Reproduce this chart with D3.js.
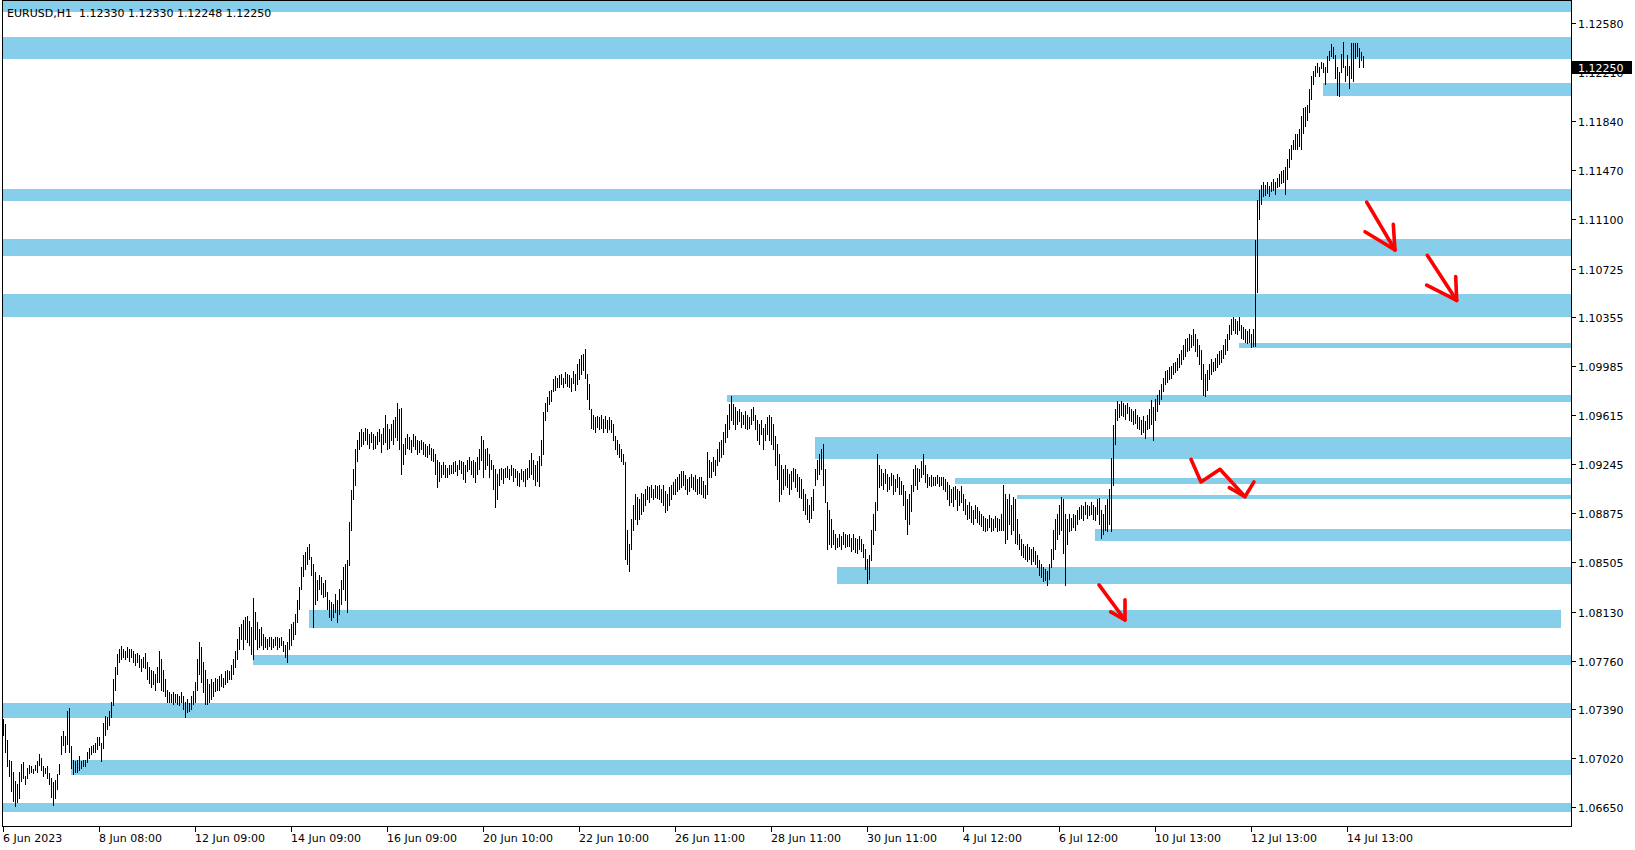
<!DOCTYPE html>
<html><head><meta charset="utf-8">
<script src="https://cdn.jsdelivr.net/npm/d3@7"></script>
<style>
html,body{margin:0;padding:0;background:#fff;overflow:hidden}
svg{display:block}
text{font-family:"DejaVu Sans",sans-serif;font-size:11px}
</style>
</head><body>
<svg id="c" width="1635" height="850"></svg>
<script>
// ---------- DATA ----------
const chartTitle = "EURUSD,H1  1.12330 1.12330 1.12248 1.12250";
const lastPrice = 1.12250;
const lastPriceLabel = "1.12250";

const yTickValues = [1.12580,1.12210,1.11840,1.11470,1.11100,1.10725,1.10355,1.09985,1.09615,1.09245,1.08875,1.08505,1.08130,1.07760,1.07390,1.07020,1.06650];
const yTickLabels = ["1.12580","1.12210","1.11840","1.11470","1.11100","1.10725","1.10355","1.09985","1.09615","1.09245","1.08875","1.08505","1.08130","1.07760","1.07390","1.07020","1.06650"];

const xTickIndex = [0,48,96,144,192,240,288,336,384,432,480,528,576,624,672];
const xTickLabels = ["6 Jun 2023","8 Jun 08:00","12 Jun 09:00","14 Jun 09:00","16 Jun 09:00","20 Jun 10:00","22 Jun 10:00","26 Jun 11:00","28 Jun 11:00","30 Jun 11:00","4 Jul 12:00","6 Jul 12:00","10 Jul 13:00","12 Jul 13:00","14 Jul 13:00"];

// H1 bar highs / lows (bar index 0..680)
const hi = [
1.0732,1.0728,1.0716,1.0701,1.0700,1.0692,1.0685,1.0683,1.0692,1.0698,
1.0699,1.0689,1.0695,1.0697,1.0696,1.0694,1.0697,1.0700,1.0705,1.0702,
1.0696,1.0695,1.0696,1.0691,1.0687,1.0684,1.0686,1.0690,1.0698,1.0719,
1.0723,1.0719,1.0738,1.0740,1.0711,1.0701,1.0700,1.0701,1.0704,1.0700,
1.0701,1.0701,1.0707,1.0710,1.0711,1.0712,1.0714,1.0718,1.0718,1.0714,
1.0729,1.0734,1.0733,1.0738,1.0745,1.0762,1.0771,1.0781,1.0785,1.0787,
1.0785,1.0783,1.0786,1.0785,1.0785,1.0783,1.0781,1.0782,1.0780,1.0777,
1.0779,1.0782,1.0775,1.0771,1.0769,1.0768,1.0766,1.0771,1.0783,1.0777,
1.0769,1.0762,1.0754,1.0752,1.0751,1.0752,1.0751,1.0751,1.0749,1.0752,
1.0749,1.0745,1.0747,1.0744,1.0749,1.0753,1.0760,1.0777,1.0790,1.0786,
1.0775,1.0769,1.0762,1.0758,1.0762,1.0760,1.0763,1.0762,1.0764,1.0766,
1.0763,1.0768,1.0769,1.0768,1.0773,1.0777,1.0783,1.0792,1.0801,1.0804,
1.0807,1.0809,1.0810,1.0806,1.0801,1.0823,1.0813,1.0805,1.0800,1.0801,
1.0796,1.0794,1.0792,1.0794,1.0794,1.0792,1.0794,1.0794,1.0793,1.0794,
1.0791,1.0788,1.0790,1.0800,1.0804,1.0805,1.0811,1.0822,1.0832,1.0847,
1.0856,1.0858,1.0862,1.0864,1.0854,1.0849,1.0843,1.0837,1.0841,1.0839,
1.0835,1.0837,1.0828,1.0822,1.0820,1.0819,1.0826,1.0822,1.0830,1.0837,
1.0847,1.0849,1.0852,1.0881,1.0905,1.0921,1.0936,1.0943,1.0949,1.0951,
1.0949,1.0952,1.0951,1.0947,1.0949,1.0947,1.0946,1.0949,1.0951,1.0947,
1.0952,1.0962,1.0955,1.0951,1.0955,1.0958,1.0960,1.0971,1.0966,1.0967,
1.0940,1.0944,1.0947,1.0945,1.0943,1.0947,1.0946,1.0943,1.0942,1.0943,
1.0941,1.0940,1.0938,1.0940,1.0937,1.0936,1.0932,1.0928,1.0926,1.0924,
1.0926,1.0924,1.0922,1.0924,1.0924,1.0926,1.0927,1.0924,1.0928,1.0927,
1.0926,1.0924,1.0928,1.0930,1.0927,1.0928,1.0926,1.0930,1.0936,1.0946,
1.0943,1.0936,1.0937,1.0932,1.0928,1.0924,1.0921,1.0917,1.0921,1.0922,
1.0921,1.0922,1.0923,1.0921,1.0924,1.0922,1.0921,1.0919,1.0918,1.0921,
1.0919,1.0921,1.0922,1.0928,1.0933,1.0928,1.0924,1.0927,1.0931,1.0943,
1.0964,1.0971,1.0975,1.0980,1.0981,1.0989,1.0991,1.0990,1.0992,1.0993,
1.0990,1.0994,1.0993,1.0992,1.0990,1.0995,1.0993,1.1000,1.1004,1.1007,
1.1008,1.1012,1.0993,1.0985,1.0966,1.0962,1.0960,1.0961,1.0960,1.0962,
1.0959,1.0961,1.0958,1.0960,1.0958,1.0955,1.0946,1.0943,1.0940,1.0936,
1.0932,1.0926,1.0875,1.0864,1.0883,1.0894,1.0902,1.0900,1.0898,1.0903,
1.0902,1.0906,1.0908,1.0907,1.0909,1.0906,1.0909,1.0908,1.0909,1.0906,
1.0909,1.0904,1.0902,1.0907,1.0909,1.0911,1.0913,1.0915,1.0917,1.0919,
1.0919,1.0916,1.0913,1.0915,1.0917,1.0915,1.0916,1.0913,1.0915,1.0915,
1.0912,1.0909,1.0934,1.0928,1.0926,1.0930,1.0928,1.0936,1.0941,1.0943,
1.0949,1.0955,1.0962,1.0970,1.0976,1.0970,1.0968,1.0965,1.0966,1.0964,
1.0962,1.0965,1.0962,1.0960,1.0966,1.0968,1.0962,1.0958,1.0955,1.0958,
1.0952,1.0955,1.0960,1.0962,1.0960,1.0955,1.0946,1.0940,1.0932,1.0924,
1.0921,1.0924,1.0921,1.0917,1.0919,1.0922,1.0921,1.0917,1.0915,1.0913,
1.0906,1.0902,1.0898,1.0894,1.0900,1.0906,1.0921,1.0928,1.0932,1.0936,
1.0940,1.0921,1.0896,1.0890,1.0883,1.0875,1.0872,1.0869,1.0872,1.0870,
1.0873,1.0872,1.0871,1.0872,1.0869,1.0872,1.0869,1.0868,1.0870,1.0868,
1.0864,1.0860,1.0853,1.0856,1.0875,1.0887,1.0896,1.0932,1.0924,1.0921,
1.0918,1.0921,1.0917,1.0915,1.0918,1.0916,1.0913,1.0917,1.0915,1.0912,
1.0909,1.0904,1.0898,1.0902,1.0909,1.0921,1.0924,1.0922,1.0921,1.0927,
1.0932,1.0924,1.0917,1.0915,1.0916,1.0915,1.0915,1.0916,1.0915,1.0915,
1.0915,1.0913,1.0911,1.0909,1.0906,1.0907,1.0908,1.0906,1.0904,1.0908,
1.0902,1.0898,1.0894,1.0896,1.0893,1.0890,1.0894,1.0892,1.0889,1.0887,
1.0885,1.0884,1.0883,1.0886,1.0884,1.0883,1.0885,1.0884,1.0883,1.0887,
1.0909,1.0902,1.0898,1.0902,1.0894,1.0900,1.0898,1.0883,1.0872,1.0868,
1.0864,1.0863,1.0864,1.0862,1.0860,1.0862,1.0859,1.0856,1.0852,1.0849,
1.0847,1.0845,1.0844,1.0849,1.0860,1.0875,1.0883,1.0887,1.0894,1.0900,
1.0898,1.0887,1.0883,1.0887,1.0884,1.0887,1.0886,1.0890,1.0892,1.0894,
1.0893,1.0896,1.0894,1.0893,1.0896,1.0894,1.0892,1.0898,1.0899,1.0890,
1.0887,1.0894,1.0898,1.0906,1.0929,1.0954,1.0966,1.0972,1.0970,1.0972,
1.0971,1.0969,1.0971,1.0968,1.0966,1.0965,1.0966,1.0962,1.0960,1.0958,
1.0961,1.0957,1.0962,1.0966,1.0973,1.0968,1.0974,1.0977,1.0981,1.0985,
1.0990,1.0995,1.0996,1.0998,1.0999,1.1001,1.1002,1.1005,1.1008,1.1011,
1.1015,1.1019,1.1020,1.1023,1.1022,1.1027,1.1023,1.1019,1.1015,1.1011,
1.1000,1.0993,1.0996,1.1000,1.1004,1.1002,1.1005,1.1008,1.1010,1.1011,
1.1015,1.1019,1.1023,1.1030,1.1034,1.1036,1.1034,1.1033,1.1036,1.1030,
1.1028,1.1027,1.1025,1.1027,1.1023,1.1027,1.1094,1.1124,1.1132,1.1136,
1.1138,1.1136,1.1138,1.1135,1.1138,1.1140,1.1138,1.1141,1.1144,1.1146,
1.1147,1.1149,1.1155,1.1163,1.1166,1.1170,1.1174,1.1174,1.1178,1.1188,
1.1194,1.1195,1.1196,1.1208,1.1218,1.1222,1.1226,1.1228,1.1225,1.1229,
1.1228,1.1225,1.1233,1.1237,1.1242,1.1240,1.1234,1.1225,1.1221,1.1235,
1.1244,1.1226,1.1234,1.1226,1.1243,1.1243,1.1243,1.1243,1.1239,1.1236,1.12330
];
const lo = [
1.0720,1.0707,1.0696,1.0689,1.0677,1.0670,1.0666,1.0669,1.0672,1.0685,
1.0687,1.0683,1.0687,1.0691,1.0692,1.0691,1.0693,1.0692,1.0697,1.0693,
1.0689,1.0691,1.0687,1.0683,1.0673,1.0667,1.0672,1.0679,1.0690,1.0705,
1.0712,1.0707,1.0713,1.0707,1.0695,1.0690,1.0692,1.0692,1.0693,1.0695,
1.0696,1.0696,1.0699,1.0702,1.0705,1.0707,1.0707,1.0709,1.0712,1.0700,
1.0710,1.0720,1.0724,1.0727,1.0733,1.0742,1.0754,1.0766,1.0775,1.0777,
1.0779,1.0777,1.0779,1.0776,1.0779,1.0775,1.0773,1.0775,1.0771,1.0768,
1.0771,1.0770,1.0762,1.0759,1.0756,1.0758,1.0754,1.0760,1.0760,1.0754,
1.0753,1.0749,1.0745,1.0745,1.0745,1.0743,1.0745,1.0743,1.0742,1.0745,
1.0739,1.0733,1.0737,1.0738,1.0739,1.0743,1.0745,1.0754,1.0766,1.0760,
1.0752,1.0743,1.0743,1.0745,1.0747,1.0749,1.0753,1.0754,1.0754,1.0757,
1.0756,1.0758,1.0760,1.0762,1.0762,1.0766,1.0771,1.0777,1.0785,1.0792,
1.0785,1.0792,1.0790,1.0788,1.0781,1.0777,1.0792,1.0785,1.0786,1.0788,
1.0785,1.0786,1.0785,1.0787,1.0785,1.0786,1.0788,1.0785,1.0786,1.0788,
1.0783,1.0779,1.0775,1.0785,1.0788,1.0792,1.0796,1.0805,1.0815,1.0830,
1.0840,1.0845,1.0849,1.0853,1.0841,1.0801,1.0819,1.0822,1.0830,1.0826,
1.0824,1.0825,1.0815,1.0809,1.0807,1.0809,1.0813,1.0805,1.0811,1.0819,
1.0830,1.0822,1.0813,1.0848,1.0875,1.0898,1.0909,1.0927,1.0936,1.0938,
1.0940,1.0943,1.0940,1.0937,1.0941,1.0936,1.0937,1.0940,1.0942,1.0934,
1.0940,1.0941,1.0936,1.0937,1.0943,1.0940,1.0945,1.0943,1.0936,1.0917,
1.0925,1.0932,1.0937,1.0936,1.0934,1.0938,1.0936,1.0932,1.0934,1.0936,
1.0932,1.0931,1.0930,1.0932,1.0928,1.0927,1.0917,1.0907,1.0912,1.0915,
1.0917,1.0915,1.0915,1.0917,1.0918,1.0918,1.0919,1.0916,1.0921,1.0918,
1.0913,1.0911,1.0919,1.0921,1.0917,1.0915,1.0911,1.0917,1.0921,1.0928,
1.0915,1.0921,1.0924,1.0915,1.0921,1.0906,1.0892,1.0898,1.0909,1.0913,
1.0910,1.0915,1.0915,1.0913,1.0916,1.0912,1.0915,1.0909,1.0908,1.0913,
1.0912,1.0908,1.0913,1.0915,1.0917,1.0913,1.0909,1.0912,1.0908,1.0924,
1.0932,1.0958,1.0965,1.0970,1.0972,1.0980,1.0981,1.0983,1.0983,1.0985,
1.0983,1.0986,1.0984,1.0983,1.0980,1.0986,1.0981,1.0985,1.0989,1.0993,
1.0996,1.0990,1.0974,1.0966,1.0952,1.0951,1.0949,1.0953,1.0951,1.0952,
1.0949,1.0952,1.0949,1.0951,1.0949,1.0943,1.0936,1.0932,1.0930,1.0927,
1.0925,1.0853,1.0849,1.0844,1.0860,1.0875,1.0883,1.0879,1.0883,1.0887,
1.0889,1.0894,1.0898,1.0896,1.0900,1.0898,1.0900,1.0899,1.0898,1.0896,
1.0894,1.0888,1.0890,1.0894,1.0898,1.0902,1.0902,1.0904,1.0906,1.0907,
1.0909,1.0906,1.0902,1.0904,1.0907,1.0906,1.0904,1.0902,1.0903,1.0902,
1.0900,1.0899,1.0902,1.0915,1.0915,1.0919,1.0916,1.0924,1.0927,1.0930,
1.0932,1.0941,1.0945,1.0951,1.0958,1.0955,1.0951,1.0955,1.0957,1.0953,
1.0955,1.0952,1.0951,1.0952,1.0955,1.0958,1.0951,1.0943,1.0940,1.0947,
1.0936,1.0943,1.0947,1.0943,1.0940,1.0936,1.0924,1.0913,1.0897,1.0902,
1.0906,1.0909,1.0907,1.0902,1.0906,1.0912,1.0907,1.0904,1.0900,1.0899,
1.0890,1.0887,1.0883,1.0881,1.0884,1.0890,1.0909,1.0913,1.0917,1.0921,
1.0909,1.0896,1.0860,1.0864,1.0862,1.0864,1.0860,1.0862,1.0863,1.0860,
1.0864,1.0862,1.0863,1.0863,1.0859,1.0860,1.0858,1.0857,1.0860,1.0859,
1.0854,1.0845,1.0835,1.0838,1.0852,1.0864,1.0875,1.0890,1.0907,1.0909,
1.0906,1.0910,1.0904,1.0906,1.0909,1.0902,1.0904,1.0907,1.0902,1.0902,
1.0894,1.0883,1.0872,1.0879,1.0889,1.0904,1.0909,1.0906,1.0912,1.0915,
1.0917,1.0911,1.0907,1.0909,1.0908,1.0909,1.0909,1.0910,1.0908,1.0909,
1.0906,1.0904,1.0898,1.0894,1.0896,1.0893,1.0898,1.0890,1.0894,1.0896,
1.0890,1.0887,1.0883,1.0884,1.0881,1.0879,1.0884,1.0881,1.0879,1.0878,
1.0875,1.0874,1.0875,1.0877,1.0874,1.0875,1.0877,1.0874,1.0875,1.0875,
1.0875,1.0865,1.0868,1.0879,1.0872,1.0875,1.0865,1.0864,1.0860,1.0856,
1.0854,1.0853,1.0851,1.0853,1.0849,1.0851,1.0849,1.0847,1.0841,1.0839,
1.0836,1.0837,1.0833,1.0838,1.0847,1.0853,1.0860,1.0868,1.0872,1.0875,
1.0857,1.0833,1.0864,1.0874,1.0875,1.0877,1.0875,1.0879,1.0883,1.0884,
1.0882,1.0887,1.0884,1.0886,1.0887,1.0883,1.0882,1.0887,1.0879,1.0869,
1.0872,1.0875,1.0874,1.0879,1.0874,1.0909,1.0940,1.0958,1.0960,1.0962,
1.0961,1.0959,1.0963,1.0958,1.0957,1.0955,1.0956,1.0952,1.0951,1.0947,
1.0949,1.0944,1.0951,1.0952,1.0955,1.0943,1.0958,1.0965,1.0970,1.0974,
1.0980,1.0985,1.0987,1.0989,1.0990,1.0993,1.0994,1.0996,1.0998,1.1000,
1.1004,1.1006,1.1010,1.1011,1.1013,1.1015,1.1010,1.1006,1.1000,1.0989,
1.0977,1.0976,1.0981,1.0989,1.0993,1.0995,1.0996,1.0998,1.1000,1.1002,
1.1005,1.1008,1.1011,1.1019,1.1023,1.1026,1.1024,1.1023,1.1026,1.1020,
1.1019,1.1017,1.1016,1.1017,1.1013,1.1014,1.1014,1.1055,1.1110,1.1121,
1.1127,1.1128,1.1130,1.1127,1.1131,1.1132,1.1129,1.1134,1.1135,1.1137,
1.1138,1.1129,1.1140,1.1149,1.1155,1.1163,1.1163,1.1163,1.1165,1.1163,
1.1175,1.1180,1.1185,1.1191,1.1201,1.1212,1.1218,1.1221,1.1218,1.1224,
1.1221,1.1212,1.1221,1.1230,1.1233,1.1232,1.1217,1.1204,1.1203,1.1221,
1.1225,1.1214,1.1219,1.1209,1.1217,1.1214,1.1232,1.1233,1.1225,1.1230,1.12248
];

// Support / resistance zones (price top, price bottom, start bar, end bar; null = chart edge)
const zoneTop    = [1.12760,1.12475,1.12125,1.11324,1.10951,1.10530,1.10165,1.09766,1.09454,1.09144,1.09010,1.08753,1.08464,1.08141,1.07801,1.07438,1.07009,1.06682];
const zoneBottom = [1.12662,1.12312,1.12029,1.11235,1.10819,1.10358,1.10122,1.09716,1.09282,1.09093,1.08980,1.08665,1.08337,1.08005,1.07725,1.07322,1.06894,1.06616];
const zoneStart  = [null,null,660,null,null,null,618,362,406,476,507,546,417,153,125,null,34,null];
const zoneEnd    = [null,null,null,null,null,null,null,null,null,null,null,null,null,779,null,null,null,null];

// Hand-drawn red arrows: polylines of [bar index, price]
const arrowPaths = [
  [[681.85,1.11228],[696,1.10865]],
  [[681,1.11004],[696,1.10865],[695.15,1.11059]],
  [[712.15,1.10825],[726.85,1.10484]],
  [[711.85,1.10600],[726.85,1.10484],[726.35,1.10664]],
  [[594,1.09282],[599,1.09111],[608.5,1.09207],[621,1.09000],[625.5,1.09111]],
  [[613.15,1.09068],[621,1.09000]],
  [[548,1.08332],[561,1.08067]],
  [[553.85,1.08128],[561,1.08067],[561,1.08219]]
];

// ---------- LAYOUT ----------
const plot = {left: 2, right: 1571, top: 0, bottom: 826};

const svg = d3.select("#c");
const x = d3.scaleLinear().domain([0, 680]).range([3, 1363]);
const y = d3.scaleLinear().domain([1.0665, 1.1258]).range([807.3, 23.3]);

svg.append("defs").append("clipPath").attr("id","pc")
  .append("rect").attr("x", plot.left + 1).attr("y", plot.top + 1)
  .attr("width", plot.right - plot.left - 1).attr("height", plot.bottom - plot.top - 1);

const g = svg.append("g").attr("clip-path","url(#pc)");

// zones
g.append("g").selectAll("rect").data(zoneTop.map((t,i)=>({t, b: zoneBottom[i], s: zoneStart[i], e: zoneEnd[i]})))
  .join("rect")
  .attr("x", d => d.s == null ? plot.left + 1 : x(d.s))
  .attr("width", d => (d.e == null ? plot.right : x(d.e)) - (d.s == null ? plot.left + 1 : x(d.s)))
  .attr("y", d => Math.round(y(d.t)))
  .attr("height", d => Math.round(y(d.b)) - Math.round(y(d.t)))
  .attr("fill", "#87ceeb")
  .attr("shape-rendering","crispEdges");

// bars
g.append("g").selectAll("line").data(hi.map((h,i)=>({i, h, l: lo[i]})))
  .join("line")
  .attr("x1", d => x(d.i) + 0.5).attr("x2", d => x(d.i) + 0.5)
  .attr("y1", d => Math.round(y(d.h))).attr("y2", d => Math.round(y(d.l)) + 1)
  .attr("stroke", "#000").attr("stroke-width", 1)
  .attr("shape-rendering","crispEdges");

// arrows
const lineGen = d3.line().x(p => x(p[0])).y(p => y(p[1]));
g.append("g").selectAll("path").data(arrowPaths).join("path")
  .attr("d", lineGen).attr("fill","none").attr("stroke","#ff0000")
  .attr("stroke-width", 3.6).attr("stroke-linecap","round").attr("stroke-linejoin","round");

// title
svg.append("text").attr("x", 7).attr("y", 17).style("white-space","pre")
  .attr("xml:space","preserve").attr("fill","#000").text(chartTitle);

// frame
svg.append("rect").attr("x", plot.left + 0.5).attr("y", plot.top + 0.5)
  .attr("width", plot.right - plot.left).attr("height", plot.bottom - plot.top)
  .attr("fill","none").attr("stroke","#000").attr("stroke-width",1).attr("shape-rendering","crispEdges");

// y axis (right)
const ya = svg.append("g");
yTickValues.forEach((v,i) => {
  const yy = Math.round(y(v)) + 0.5;
  ya.append("line").attr("x1", plot.right + 1).attr("x2", plot.right + 5).attr("y1", yy).attr("y2", yy)
    .attr("stroke","#000").attr("shape-rendering","crispEdges");
  ya.append("text").attr("x", plot.right + 7).attr("y", yy + 4).attr("fill","#000").text(yTickLabels[i]);
});

// x axis (bottom)
const xa = svg.append("g");
xTickIndex.forEach((idx,i) => {
  const xx = Math.round(x(idx)) + 0.5;
  xa.append("line").attr("x1", xx).attr("x2", xx).attr("y1", plot.bottom + 1).attr("y2", plot.bottom + 6)
    .attr("stroke","#000").attr("shape-rendering","crispEdges");
  xa.append("text").attr("x", xx - 0.5).attr("y", plot.bottom + 16).attr("fill","#000").text(xTickLabels[i]);
});

// last price label
const py = Math.round(y(lastPrice));
svg.append("rect").attr("x", plot.right + 1).attr("y", py - 6).attr("width", 60).attr("height", 13)
  .attr("fill","#000").attr("shape-rendering","crispEdges");
svg.append("text").attr("x", plot.right + 7).attr("y", py + 4.5).attr("fill","#fff").text(lastPriceLabel);
</script>
</body></html>
